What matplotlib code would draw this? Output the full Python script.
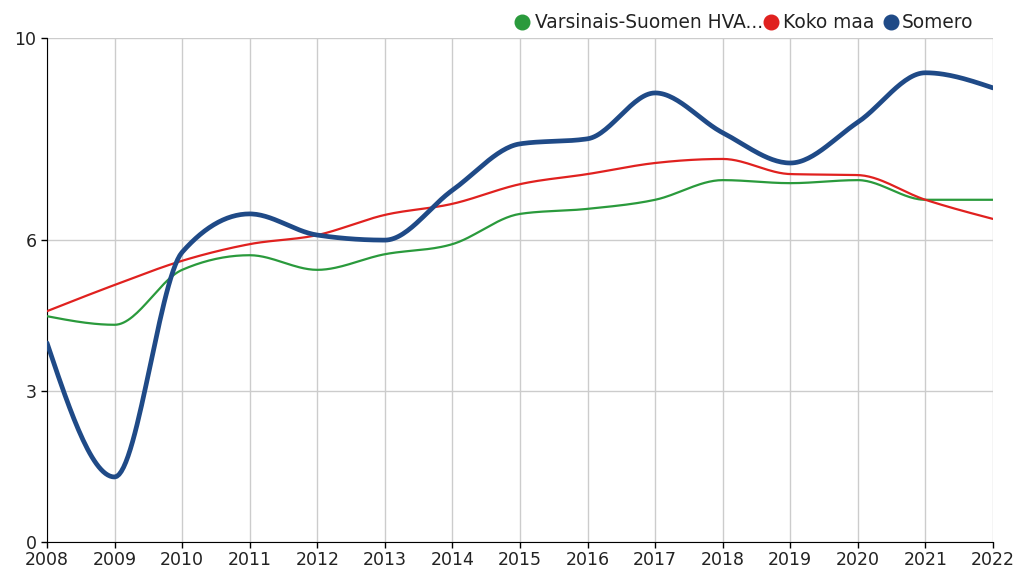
import numpy as np
import matplotlib
matplotlib.use("Agg")
import matplotlib.pyplot as plt
from matplotlib.lines import Line2D

# Data
years = list(range(2008, 2023))
somero = [3.95, 1.29, 5.75, 6.51, 6.09, 5.99, 6.98, 7.90, 8.00, 8.91, 8.12, 7.52, 8.33, 9.31, 9.01]
koko_maa = [4.58, 5.10, 5.58, 5.91, 6.09, 6.49, 6.71, 7.10, 7.30, 7.52, 7.60, 7.30, 7.28, 6.79, 6.41]
varsinais = [4.48, 4.31, 5.40, 5.69, 5.40, 5.71, 5.91, 6.51, 6.61, 6.79, 7.18, 7.12, 7.18, 6.79, 6.79]

series_names = ["Varsinais-Suomen HVA...", "Koko maa", "Somero"]
colors = ["#2a9a3c", "#e0211f", "#1f4a87"]
widths = [1.6, 1.6, 3.4]
y_ticks = [0, 3, 6, 10]


def monotone_curve(x, y, n=30):
    # monotone cubic drawing curve (like d3 curveMonotoneX)
    x = np.asarray(x, float)
    y = np.asarray(y, float)
    h = np.diff(x)
    s = np.diff(y) / h
    t = np.zeros_like(y)
    for i in range(1, len(y) - 1):
        p = (s[i - 1] * h[i] + s[i] * h[i - 1]) / (h[i - 1] + h[i])
        t[i] = (np.sign(s[i - 1]) + np.sign(s[i])) * min(abs(s[i - 1]), abs(s[i]), 0.5 * abs(p))
    t[0] = (3 * s[0] - t[1]) / 2
    t[-1] = (3 * s[-1] - t[-2]) / 2
    xs, ys = [], []
    for i in range(len(x) - 1):
        u = np.linspace(0, 1, n, endpoint=False)
        h00 = 2 * u**3 - 3 * u**2 + 1
        h10 = u**3 - 2 * u**2 + u
        h01 = -2 * u**3 + 3 * u**2
        h11 = u**3 - u**2
        xs.append(x[i] + u * h[i])
        ys.append(h00 * y[i] + h10 * h[i] * t[i] + h01 * y[i + 1] + h11 * h[i] * t[i + 1])
    xs.append([x[-1]])
    ys.append([y[-1]])
    return np.concatenate(xs), np.concatenate(ys)


def main():
    W, H = 1018, 570
    fig = plt.figure(figsize=(W / 100, H / 100), dpi=100)
    ax = fig.add_axes([47 / W, 1 - 542 / H, 946 / W, 504 / H])

    for vals, c, w in zip([varsinais, koko_maa, somero], colors, widths):
        cx, cy = monotone_curve(years, vals)
        ax.plot(cx, cy, color=c, lw=w, solid_capstyle="round", zorder=3)

    ax.set_xlim(2008, 2022)
    ax.set_ylim(0, 10)
    ax.set_xticks(years)
    ax.set_yticks(y_ticks)
    ax.grid(True, color="#cccccc", lw=1)
    ax.set_axisbelow(True)
    for side in ["top", "right"]:
        ax.spines[side].set_visible(False)
    ax.tick_params(axis="both", length=4.5, width=1, labelsize=12.5, colors="#222222", pad=2)
    ax.tick_params(axis="y", pad=3)
    ax.tick_params(axis="both", color="black")

    # legend, laid out by hand along the top
    dot_x = [522, 771, 891]
    text_x = [535, 783, 902]
    ly = 1 - 22 / H
    for dx, tx, c, name in zip(dot_x, text_x, colors, series_names):
        fig.add_artist(Line2D([dx / W], [ly], marker="o", ls="", color=c, markersize=10.5,
                              transform=fig.transFigure))
        fig.text(tx / W, ly, name, fontsize=13.4, va="center", ha="left", color="#222222")

    fig.savefig("out.png", dpi=100)


if __name__ == '__main__':
    main()
